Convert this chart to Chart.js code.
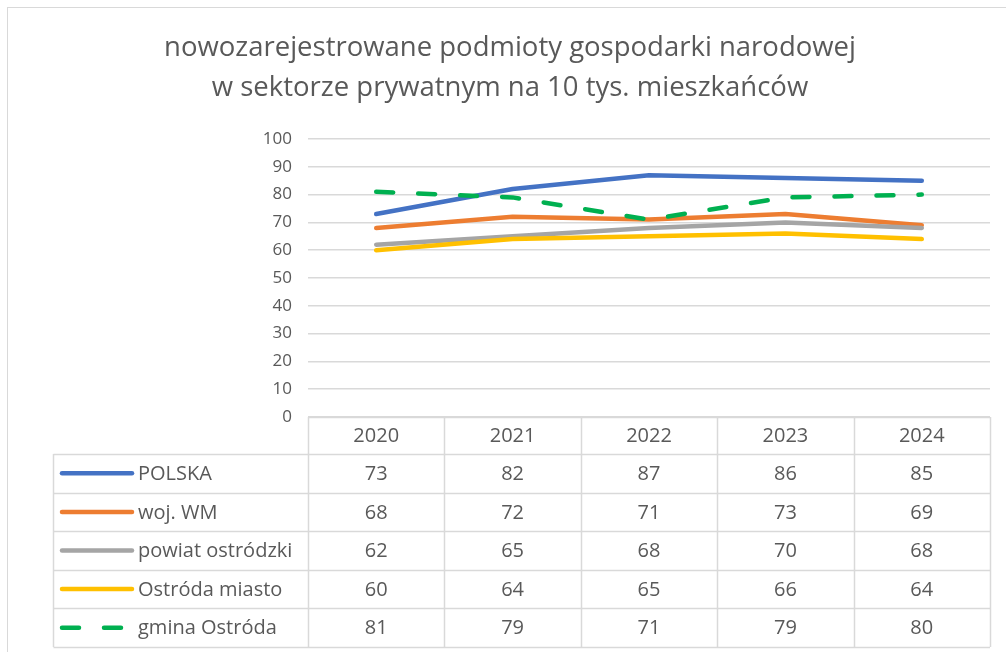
<!DOCTYPE html>
<html lang="pl">
<head>
<meta charset="utf-8">
<title>nowozarejestrowane podmioty gospodarki narodowej</title>
<script src="https://cdn.jsdelivr.net/npm/chart.js@4.4.1/dist/chart.umd.min.js"></script>
<style>
  html, body { margin: 0; padding: 0; background: #fff; }
  #wrap { width: 1006px; height: 652px; position: relative; }
</style>
</head>
<body>
<div id="wrap"><canvas id="chart"></canvas></div>
<script>
// Data
const years = ['2020', '2021', '2022', '2023', '2024'];
const seriesNames = ['POLSKA', 'woj. WM', 'powiat ostródzki', 'Ostróda miasto', 'gmina Ostróda'];
const polska = [73, 82, 87, 86, 85];
const wojWM = [68, 72, 71, 73, 69];
const powiat = [62, 65, 68, 70, 68];
const ostrodaMiasto = [60, 64, 65, 66, 64];
const gminaOstroda = [81, 79, 71, 79, 80];
const yTicks = [0, 10, 20, 30, 40, 50, 60, 70, 80, 90, 100];

const seriesValues = [polska, wojWM, powiat, ostrodaMiasto, gminaOstroda];
const seriesColors = ['#4472C4', '#ED7D31', '#A5A5A5', '#FFC000', '#00B050'];
const greenDash = [17, 25];

const textColor = '#595959';
const gridColor = '#D9D9D9';
const fontFamily = "'Open Sans', sans-serif";

Chart.defaults.font.family = fontFamily;
Chart.defaults.color = textColor;

// Excel-like data table under the plot, aligned to the x scale columns
const dataTablePlugin = {
  id: 'dataTable',
  beforeDraw(chart) {
    const { ctx } = chart;
    ctx.save();
    ctx.fillStyle = '#fff';
    ctx.fillRect(0, 0, chart.width, chart.height);
    // chart border (right / bottom run off the page)
    ctx.strokeStyle = gridColor;
    ctx.lineWidth = 1;
    ctx.strokeRect(7.5, 7.5, chart.width + 10, chart.height + 10);
    ctx.restore();
  },
  afterDraw(chart) {
    const { ctx, chartArea } = chart;
    const x = chart.scales.x;
    const colW = (chartArea.right - chartArea.left) / years.length;
    const top = Math.round(chartArea.bottom);
    const headH = 37;
    const rowH = 38.6;
    const legendLeft = 53.5;
    const bottom = top + headH + rowH * seriesNames.length;

    ctx.save();
    ctx.strokeStyle = gridColor;
    ctx.lineWidth = 1.5;
    ctx.beginPath();
    // header top
    ctx.moveTo(chartArea.left, top + 0.5);
    ctx.lineTo(chartArea.right, top + 0.5);
    // row lines
    for (let r = 0; r <= seriesNames.length; r++) {
      const y = Math.round(top + headH + r * rowH) + 0.5;
      ctx.moveTo(legendLeft, y);
      ctx.lineTo(chartArea.right, y);
    }
    // column lines
    for (let c = 0; c <= years.length; c++) {
      const cx = Math.round(chartArea.left + c * colW) + 0.5;
      ctx.moveTo(cx, top);
      ctx.lineTo(cx, bottom);
    }
    ctx.moveTo(legendLeft, top + headH);
    ctx.lineTo(legendLeft, bottom);
    ctx.stroke();

    ctx.fillStyle = textColor;
    ctx.font = `20px ${fontFamily}`;
    ctx.textAlign = 'center';
    ctx.textBaseline = 'middle';
    years.forEach((yr, i) => {
      ctx.fillText(yr, x.getPixelForValue(i), top + headH / 2 + 1);
    });

    seriesNames.forEach((name, r) => {
      const cy = top + headH + r * rowH + rowH / 2 + 1;
      // legend key
      ctx.strokeStyle = seriesColors[r];
      ctx.lineWidth = 4.5;
      ctx.lineCap = 'round';
      ctx.setLineDash(r === 4 ? greenDash : []);
      ctx.beginPath();
      ctx.moveTo(62, cy - 1);
      ctx.lineTo(132, cy - 1);
      ctx.stroke();
      ctx.setLineDash([]);

      ctx.textAlign = 'left';
      ctx.fillText(name, 138, cy);
      ctx.textAlign = 'center';
      seriesValues[r].forEach((v, i) => {
        ctx.fillText(String(v), x.getPixelForValue(i), cy);
      });
    });
    ctx.restore();
  },
};

const datasets = seriesNames.map((name, i) => ({
  label: name,
  data: seriesValues[i],
  borderColor: seriesColors[i],
  backgroundColor: seriesColors[i],
  borderWidth: 4.5,
  borderDash: i === 4 ? greenDash : [],
  borderCapStyle: 'round',
  borderJoinStyle: 'round',
  pointRadius: 0,
  tension: 0,
  fill: false,
  order: seriesNames.length - i,
}));

const ctx = document.getElementById('chart');
// eslint-disable-next-line no-new
new Chart(ctx, {
  type: 'line',
  data: { labels: years, datasets },
  plugins: [dataTablePlugin],
  options: {
    responsive: true,
    maintainAspectRatio: false,
    animation: false,
    layout: {
      padding: { left: 30, right: 16, top: 0, bottom: 235 },
    },
    plugins: {
      title: {
        display: true,
        text: [
          'nowozarejestrowane podmioty gospodarki narodowej',
          'w sektorze prywatnym na 10 tys. mieszkańców',
        ],
        color: textColor,
        font: { size: 27.5, weight: 'normal', lineHeight: 40 / 27.5 },
        padding: { top: 28, bottom: 31 },
      },
      legend: { display: false },
      tooltip: { enabled: false },
    },
    scales: {
      x: {
        type: 'category',
        offset: true,
        display: false,
      },
      y: {
        min: 0,
        max: 100,
        afterBuildTicks(scale) {
          scale.ticks = yTicks.map((v) => ({ value: v }));
        },
        afterFit(scale) {
          scale.width = 278;
        },
        ticks: {
          padding: 16,
          color: textColor,
          font: { size: 17 },
        },
        grid: {
          color: gridColor,
          lineWidth: 1.5,
          drawTicks: false,
        },
        border: { display: false },
      },
    },
  },
});
</script>
</body>
</html>
